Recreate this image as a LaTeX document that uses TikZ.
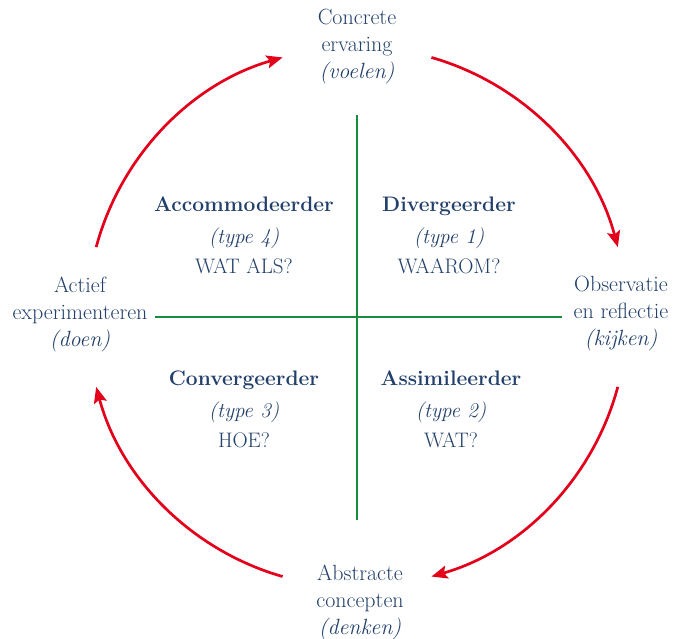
\documentclass[tikz,border=0pt]{standalone}
\usetikzlibrary{arrows.meta,calc}
\definecolor{txtblue}{HTML}{22406B}
\definecolor{arcred}{HTML}{E2001A}
\definecolor{axisgreen}{HTML}{1A8A3C}
\tikzset{
  lbl/.style={text=txtblue,align=center,font=\fontsize{22}{27}\selectfont,inner sep=0pt},
  quad/.style={text=txtblue,align=center,font=\fontsize{21}{30}\selectfont,inner sep=0pt},
  axis/.style={draw=axisgreen,line width=2.6pt},
  cyc/.style={draw=arcred,line width=2.7pt,-{Stealth[length=16pt,width=13pt,inset=3pt]}}
}
\begin{document}
\begin{tikzpicture}[x=1pt,y=1pt]
\useasboundingbox (0,0) rectangle (674,639);
\coordinate (c) at (357,322);
% axes
\coordinate (vt) at (357,524);
\coordinate (vb) at (357,119);
\coordinate (hl) at (155,322);
\coordinate (hr) at (562,322);
\draw[axis] (vt) -- (vb);
\draw[axis] (hl) -- (hr);
% outer labels
\node[lbl] (top) at (357,592) {Concrete\\ervaring\\\textit{(voelen)}};
\node[lbl] (right) at (621,325) {Observatie\\en reflectie\\\textit{(kijken)}};
\node[lbl] (bottom) at (360,37) {Abstracte\\concepten\\\textit{(denken)}};
\node[lbl] (left) at (80,325) {Actief\\experimenteren\\\textit{(doen)}};
% quadrant labels
\node[quad] (q4) at (244,404) {\textbf{Accommodeerder}\\[2pt]\textit{(type 4)}\\WAT ALS?};
\node[quad] (q1) at (449,404) {\textbf{Divergeerder}\\[2pt]\textit{(type 1)}\\WAAROM?};
\node[quad] (q3) at (244,230) {\textbf{Convergeerder}\\[2pt]\textit{(type 3)}\\HOE?};
\node[quad] (q2) at (451,230) {\textbf{Assimileerder}\\[2pt]\textit{(type 2)}\\WAT?};
% cycle arcs (radius 270 around c)
\coordinate (a1) at ($(c)+(74:270pt)$);
\coordinate (a2) at ($(c)+(-15:270pt)$);
\coordinate (a3) at ($(c)+(-106:270pt)$);
\coordinate (a4) at ($(c)+(165:270pt)$);
\draw[cyc] (a1) arc[start angle=74,end angle=15,radius=270pt];
\draw[cyc] (a2) arc[start angle=-15,end angle=-74,radius=270pt];
\draw[cyc] (a3) arc[start angle=-106,end angle=-165,radius=270pt];
\draw[cyc] (a4) arc[start angle=165,end angle=106,radius=270pt];
\end{tikzpicture}
\end{document}
